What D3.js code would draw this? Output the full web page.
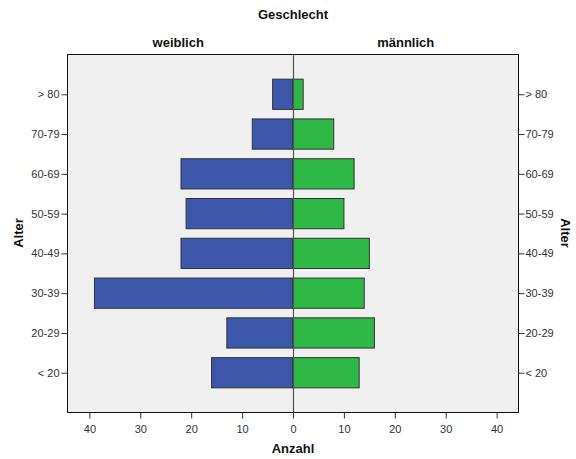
<!DOCTYPE html>
<html>
<head>
<meta charset="utf-8">
<script src="https://cdn.jsdelivr.net/npm/d3@7"></script>
<style>
  body { margin: 0; background: #fff; }
  svg { font-family: Arial, "Liberation Sans", sans-serif; }
  .tick text { fill: #333; font-size: 11px; }
  .title { font-weight: bold; font-size: 13px; fill: #111; }
</style>
</head>
<body>
<div id="chart"></div>
<script>
  // Altersgruppen, von oben nach unten
  const ageGroups = ['> 80', '70-79', '60-69', '50-59', '40-49', '30-39', '20-29', '< 20'];
  const female = [4, 8, 22, 21, 22, 39, 13, 16];
  const male = [2, 8, 12, 10, 15, 14, 16, 13];
  const xTicks = [-40, -30, -20, -10, 0, 10, 20, 30, 40];

  const COLORS = {
    FEMALE: '#3d57ab',
    MALE: '#2eb845',
    PLOT: '#f0f0f0'
  };

  var width = 576;
  var height = 459;
  var plot = { left: 67.5, right: 518.5, top: 54.5, bottom: 412.5 };

  var svg = d3.select('#chart').append('svg')
    .attr('width', width)
    .attr('height', height);

  var x = d3.scaleLinear()
    .domain([-44.3, 44.3])
    .range([plot.left, plot.right]);

  var y = d3.scalePoint()
    .domain(ageGroups)
    .range([plot.top, plot.bottom])
    .padding(1);

  var barH = y.step() * 0.76;

  svg.append('rect')
    .attr('x', plot.left)
    .attr('y', plot.top)
    .attr('width', plot.right - plot.left)
    .attr('height', plot.bottom - plot.top)
    .attr('fill', COLORS.PLOT);

  // weiblich nach links
  svg.selectAll('.bar-f')
    .data(ageGroups)
    .enter()
    .append('rect')
    .attr('class', 'bar-f')
    .attr('x', function (d, i) { return x(-female[i]); })
    .attr('y', function (d) { return y(d) - barH / 2; })
    .attr('width', function (d, i) { return x(0) - x(-female[i]); })
    .attr('height', barH)
    .attr('fill', COLORS.FEMALE)
    .attr('stroke', '#333')
    .attr('stroke-width', 1);

  // männlich nach rechts
  svg.selectAll('.bar-m')
    .data(ageGroups)
    .enter()
    .append('rect')
    .attr('class', 'bar-m')
    .attr('x', x(0))
    .attr('y', function (d) { return y(d) - barH / 2; })
    .attr('width', function (d, i) { return x(male[i]) - x(0); })
    .attr('height', barH)
    .attr('fill', COLORS.MALE)
    .attr('stroke', '#333')
    .attr('stroke-width', 1);

  // Nulllinie
  svg.append('line')
    .attr('x1', Math.round(x(0)) + 0.5)
    .attr('x2', Math.round(x(0)) + 0.5)
    .attr('y1', plot.top)
    .attr('y2', plot.bottom)
    .attr('stroke', '#555')
    .attr('stroke-width', 1.2);

  svg.append('rect')
    .attr('x', plot.left)
    .attr('y', plot.top)
    .attr('width', plot.right - plot.left)
    .attr('height', plot.bottom - plot.top)
    .attr('fill', 'none')
    .attr('stroke', '#111')
    .attr('stroke-width', 1);

  // X Achse
  var xAxis = svg.append('g')
    .attr('transform', 'translate(0,' + plot.bottom + ')')
    .call(d3.axisBottom(x).tickValues(xTicks).tickSize(6).tickFormat(function (d) { return Math.abs(d); }));
  xAxis.select('.domain').remove();
  xAxis.selectAll('line').attr('stroke', '#333');
  xAxis.selectAll('text').attr('dy', '1.05em');

  // Y Achsen links und rechts
  var yLeft = svg.append('g')
    .attr('transform', 'translate(' + plot.left + ',0)')
    .call(d3.axisLeft(y).tickSize(6).tickPadding(2));
  yLeft.select('.domain').remove();
  yLeft.selectAll('line').attr('stroke', '#333');

  var yRight = svg.append('g')
    .attr('transform', 'translate(' + plot.right + ',0)')
    .call(d3.axisRight(y).tickSize(6).tickPadding(1));
  yRight.select('.domain').remove();
  yRight.selectAll('line').attr('stroke', '#333');

  // Titel
  svg.append('text')
    .attr('class', 'title')
    .attr('x', x(0))
    .attr('y', 19)
    .attr('text-anchor', 'middle')
    .text('Geschlecht');

  svg.append('text')
    .attr('class', 'title')
    .attr('x', (plot.left + x(0)) / 2 - 2)
    .attr('y', 47)
    .attr('text-anchor', 'middle')
    .text('weiblich');

  svg.append('text')
    .attr('class', 'title')
    .attr('x', (plot.right + x(0)) / 2)
    .attr('y', 47)
    .attr('text-anchor', 'middle')
    .text('männlich');

  svg.append('text')
    .attr('class', 'title')
    .attr('x', x(0))
    .attr('y', 453)
    .attr('text-anchor', 'middle')
    .text('Anzahl');

  svg.append('text')
    .attr('class', 'title')
    .attr('transform', 'translate(23,' + 233 + ')rotate(-90)')
    .attr('text-anchor', 'middle')
    .text('Alter');

  svg.append('text')
    .attr('class', 'title')
    .attr('transform', 'translate(561,' + 233 + ')rotate(90)')
    .attr('text-anchor', 'middle')
    .text('Alter');
</script>
</body>
</html>
